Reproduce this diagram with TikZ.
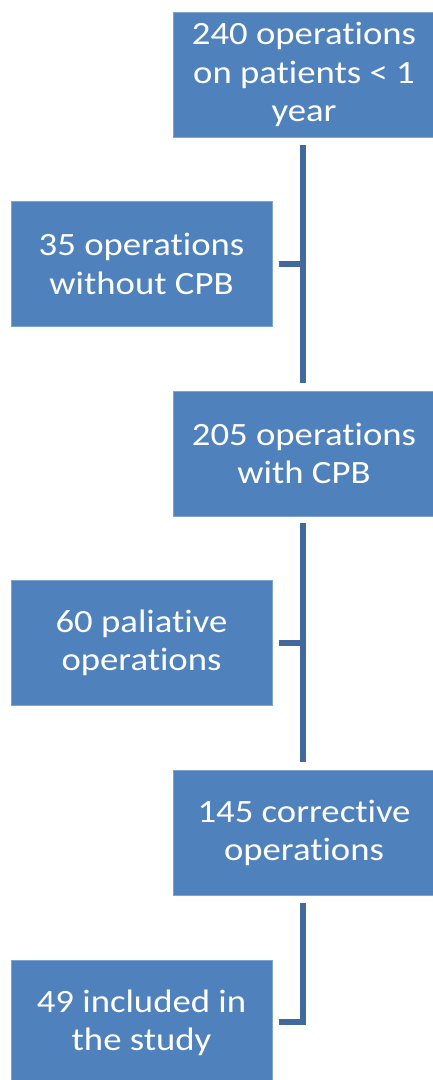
\documentclass[tikz,border=0pt]{standalone}
\usepackage{fontspec}
\setmainfont[Ligatures={NoCommon},FakeStretch=1.13]{Carlito}
\definecolor{boxblue}{HTML}{4F81BD}
\definecolor{boxedge}{HTML}{7FA3CF}
\definecolor{linkblue}{HTML}{41699C}
\begin{document}
\begin{tikzpicture}[x=1pt,y=-1pt,
  box/.style={draw=boxedge, line width=0.6pt, fill=boxblue, text=white,
    minimum width=261pt, minimum height=125pt, align=center,
    font=\fontsize{32.5}{38.5}\selectfont, inner sep=0pt},
  link/.style={draw=linkblue, line width=6pt}]
\useasboundingbox (0,0) rectangle (432,1080);
\node[box] (b1) at (304,74.5) {240 operations\\on patients < 1\\year};
\node[box] (l1) at (141.5,264) {35 operations\\without CPB};
\node[box] (b2) at (304,453.5) {205 operations\\with CPB};
\node[box] (l2) at (141.5,643) {60 paliative\\operations};
\node[box] (b3) at (304,833) {145 corrective\\operations};
\node[box] (l3) at (141.5,1023) {49 included in\\the study};
\coordinate (c3) at (303,1022);
\coordinate (e3) at ([xshift=7pt]l3.east);
\draw[link] ([xshift=-1pt,yshift=-8pt]b1.south) -- ([xshift=-1pt,yshift=8pt]b2.north);
\draw[link] ([xshift=7pt]l1.east) -- (l1.east -| c3);
\draw[link] ([xshift=-1pt,yshift=-7pt]b2.south) -- ([xshift=-1pt,yshift=8pt]b3.north);
\draw[link] ([xshift=7pt]l2.east) -- (l2.east -| c3);
\draw[link] ([xshift=-1pt,yshift=-7pt]b3.south) -- (c3) -- (c3 -| e3);
\end{tikzpicture}
\end{document}
